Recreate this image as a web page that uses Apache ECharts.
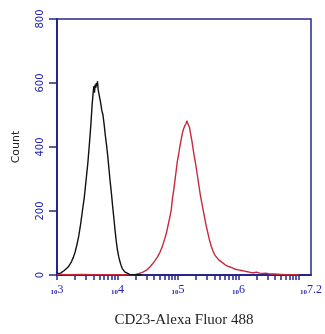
<!DOCTYPE html>
<html>
<head>
<meta charset="utf-8">
<script src="https://cdn.jsdelivr.net/npm/echarts@6/dist/echarts.min.js"></script>
<style>
  html, body { margin: 0; padding: 0; background: #fff; }
  #chart { width: 325px; height: 334px; }
</style>
</head>
<body>
<div id="chart"></div>
<script>
// 横轴用 log10(荧光强度)，纵轴是计数
// 对照（黑线）
const ctrlLog = [3.00, 3.03, 3.06, 3.09, 3.12, 3.15, 3.18, 3.21, 3.24, 3.27, 3.30, 3.33, 3.36, 3.39, 3.42, 3.45, 3.48, 3.51, 3.54, 3.56, 3.58, 3.60, 3.61, 3.62, 3.63, 3.64, 3.65, 3.66, 3.67, 3.68, 3.70, 3.72, 3.74, 3.76, 3.78, 3.80, 3.82, 3.84, 3.86, 3.88, 3.90, 3.92, 3.94, 3.96, 3.98, 4.00, 4.02, 4.04, 4.06, 4.08, 4.10, 4.12, 4.15, 4.20, 4.30, 4.40];
const ctrlCount = [5, 8, 6, 10, 14, 20, 24, 32, 42, 55, 72, 95, 122, 158, 200, 240, 295, 350, 420, 470, 530, 575, 590, 570, 595, 585, 600, 590, 605, 580, 560, 540, 515, 500, 470, 435, 405, 370, 330, 290, 255, 215, 178, 140, 105, 78, 58, 42, 30, 20, 14, 10, 7, 2, 1, 0];
// CD23 染色（红线）
const cd23Log = [3.00, 3.20, 3.40, 3.60, 3.80, 4.00, 4.15, 4.30, 4.36, 4.42, 4.48, 4.54, 4.58, 4.62, 4.66, 4.70, 4.74, 4.78, 4.81, 4.84, 4.87, 4.89, 4.91, 4.93, 4.95, 4.97, 4.99, 5.01, 5.03, 5.05, 5.07, 5.09, 5.11, 5.13, 5.15, 5.16, 5.17, 5.19, 5.21, 5.23, 5.25, 5.27, 5.29, 5.31, 5.33, 5.35, 5.37, 5.39, 5.41, 5.43, 5.46, 5.49, 5.52, 5.55, 5.58, 5.61, 5.64, 5.67, 5.70, 5.74, 5.78, 5.82, 5.86, 5.90, 5.95, 6.00, 6.05, 6.10, 6.15, 6.20, 6.25, 6.30, 6.35, 6.40, 6.45, 6.50, 6.55, 6.60, 6.70, 6.80, 6.90, 7.00];
const cd23Count = [2, 1, 2, 1, 1, 1, 1, 2, 5, 9, 15, 26, 35, 45, 56, 70, 88, 112, 132, 158, 185, 205, 240, 265, 295, 325, 355, 375, 400, 420, 440, 455, 465, 472, 482, 475, 478, 462, 440, 420, 395, 370, 350, 325, 300, 275, 250, 230, 210, 190, 160, 135, 110, 90, 75, 62, 55, 48, 42, 38, 32, 28, 25, 22, 18, 16, 14, 12, 10, 8, 7, 9, 6, 5, 6, 4, 3, 3, 2, 1, 1, 0];

// 刻度：每个数量级 1~9 倍的位置，标签只标整数量级和最右端 7.2
const decadeLabels = [3, 4, 5, 6, 7.2];
const yTicks = [0, 200, 400, 600, 800];

const logTicks = [];
for (let d = 3; d <= 7; d++) {
    for (let k = 1; k <= 9; k++) {
        const v = d + Math.log10(k);
        if (v <= 7.2) logTicks.push(v);
    }
}

const navy = '#26268a';
const labelBlue = '#2323b0';

function zip(xs, ys) {
    return xs.map((x, i) => [x, ys[i]]);
}

const chart = echarts.init(document.getElementById('chart'));
chart.setOption({
    animation: false,
    grid: {
        left: 57,
        right: 13,
        top: 19,
        bottom: 59,
        show: true,
        borderColor: navy,
        borderWidth: 1.5
    },
    xAxis: {
        type: 'value',
        min: 3,
        max: 7.2,
        name: 'CD23-Alexa Fluor 488',
        nameLocation: 'middle',
        nameGap: 38,
        nameTextStyle: {
            fontFamily: 'Liberation Serif',
            fontSize: 15,
            color: '#222'
        },
        axisLine: { lineStyle: { color: navy, width: 2 } },
        axisTick: {
            customValues: logTicks,
            length: 5,
            lineStyle: { color: navy, width: 1.5 }
        },
        axisLabel: {
            customValues: decadeLabels,
            margin: 9,
            formatter: v => '{b|10}{e|' + v + '}',
            rich: {
                b: { fontSize: 7, color: labelBlue, fontFamily: 'Liberation Serif', verticalAlign: 'bottom', fontWeight: 'bold' },
                e: { fontSize: 12, color: labelBlue, fontFamily: 'Liberation Serif', verticalAlign: 'top' }
            }
        },
        splitLine: { show: false }
    },
    yAxis: {
        type: 'value',
        min: 0,
        max: 800,
        interval: 200,
        name: 'Count',
        nameLocation: 'middle',
        nameGap: 35,
        nameTextStyle: {
            fontFamily: 'DejaVu Sans',
            fontSize: 11,
            color: '#222'
        },
        axisLine: { show: true, lineStyle: { color: navy, width: 2 } },
        axisTick: {
            show: true,
            length: 8,
            lineStyle: { color: navy, width: 1.5 }
        },
        axisLabel: {
            rotate: 90,
            margin: 12,
            fontSize: 10,
            fontFamily: 'DejaVu Sans',
            color: labelBlue,
            formatter: v => yTicks.includes(v) ? String(v) : ''
        },
        splitLine: { show: false }
    },
    series: [
        {
            name: 'control',
            type: 'line',
            data: zip(ctrlLog, ctrlCount),
            showSymbol: false,
            lineStyle: { color: '#111', width: 1.4 },
            z: 3
        },
        {
            name: 'CD23',
            type: 'line',
            data: zip(cd23Log, cd23Count),
            showSymbol: false,
            lineStyle: { color: '#c42a3c', width: 1.4 },
            z: 2
        }
    ]
});
</script>
</body>
</html>
